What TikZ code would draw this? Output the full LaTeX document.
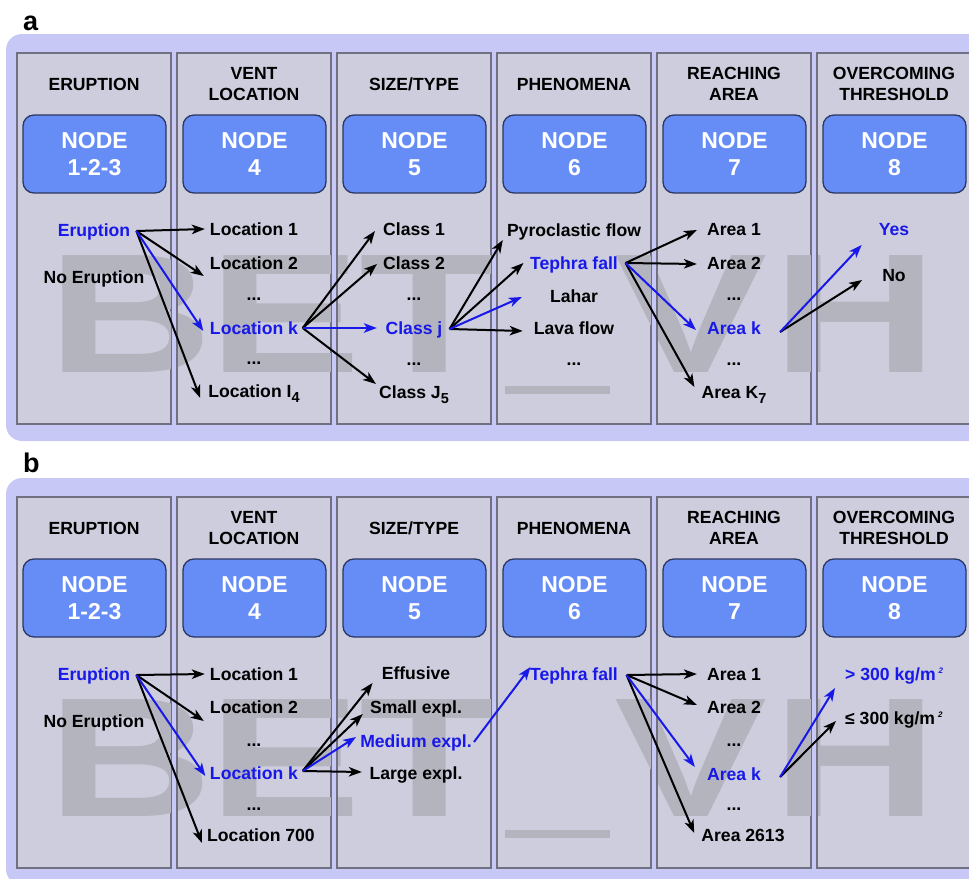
\documentclass[tikz,border=0pt]{standalone}
\usepackage{fontspec}
\setmainfont{Liberation Sans}
\usetikzlibrary{arrows.meta,calc}
\definecolor{lav}{RGB}{200,200,246}
\definecolor{colbg}{RGB}{205,205,222}
\definecolor{colbd}{RGB}{112,112,130}
\definecolor{nodebl}{RGB}{102,140,246}
\definecolor{nodebd}{RGB}{45,55,95}
\definecolor{bluetx}{RGB}{24,24,232}
\definecolor{wmark}{RGB}{180,180,191}
\newcommand\subsc[1]{\raisebox{-5pt}{\fontsize{14.5}{14.5}\selectfont #1}}
\newcommand\supsc[1]{\,\raisebox{7pt}{\fontsize{8}{8}\selectfont\itshape #1}}
\newcommand\drawpanel[2]{%
\begin{scope}[shift={(0,#2)}]
  \fill[outer] (6,34) rectangle (1010,441);
  \foreach \i in {0,...,5}{\draw[colbox] ({17+160*\i},53) rectangle ({171+160*\i},424);}
  \begin{scope}
    \clip (18,54) rectangle (170,423) (178,54) rectangle (330,423)
          (338,54) rectangle (490,423) (498,54) rectangle (650,423)
          (658,54) rectangle (810,423) (818,54) rectangle (970,423);
    \node[wm] at (130,372) {B};
    \node[wm] at (285,372) {E};
    \node[wm] at (430,372) {T};
    \fill[wmark] (505,386) rectangle (610,394);
    \node[wm] at (691,372) {V};
    \node[wm] at (855,372) {H};
  \end{scope}
  \node[hdr] (#1-h1) at (94,84) {ERUPTION};
  \node[hdr] (#1-h2) at (254,84) {VENT\\LOCATION};
  \node[hdr] (#1-h3) at (414,84) {SIZE/TYPE};
  \node[hdr] (#1-h4) at (574,84) {PHENOMENA};
  \node[hdr] (#1-h5) at (734,84) {REACHING\\AREA};
  \node[hdr] (#1-h6) at (894,84) {OVERCOMING\\THRESHOLD};
  \node[nodebox] (#1-n1) at (94.5,154) {NODE\\1-2-3};
  \node[nodebox] (#1-n2) at (254.5,154) {NODE\\4};
  \node[nodebox] (#1-n3) at (414.5,154) {NODE\\5};
  \node[nodebox] (#1-n4) at (574.5,154) {NODE\\6};
  \node[nodebox] (#1-n5) at (734.5,154) {NODE\\7};
  \node[nodebox] (#1-n6) at (894.5,154) {NODE\\8};
\end{scope}}
\begin{document}
\begin{tikzpicture}[x=1pt,y=-1pt,
  outer/.style={fill=lav, rounded corners=16pt},
  colbox/.style={fill=colbg, draw=colbd, line width=1.3pt},
  hdr/.style={font=\bfseries\fontsize{17.6}{21.5}\selectfont, align=center, inner sep=0pt},
  nodebox/.style={fill=nodebl, draw=nodebd, line width=1.3pt, rounded corners=11pt,
    minimum width=143pt, minimum height=78pt, text=white,
    font=\bfseries\fontsize{23}{27}\selectfont, align=center, inner sep=0pt},
  item/.style={font=\bfseries\fontsize{17.6}{20}\selectfont, inner sep=0pt, text height=12.4pt, text depth=0pt},
  bitem/.style={item, text=bluetx},
  dots/.style={font=\bfseries\fontsize{17.6}{20}\selectfont, inner sep=0pt, anchor=base},
  wm/.style={font=\bfseries\fontsize{170}{170}\selectfont, text=wmark, xscale=1.35, anchor=base, inner sep=0pt},
  arr/.style={-{Stealth[length=13pt,width=9.5pt,inset=3.5pt]}, line width=2pt, black},
  barr/.style={arr, draw=bluetx, fill=bluetx},
  lbl/.style={font=\bfseries\fontsize{27}{27}\selectfont, anchor=base west, inner sep=0pt}
]
\useasboundingbox (0,0) rectangle (969,878);
\clip (0,0) rectangle (969,878);

\node[lbl] (lbla) at (23,30) {a};
\node[lbl] (lblb) at (23,472) {b};

\drawpanel{a}{0}
\drawpanel{b}{444}

% ---------------- panel a items
\node[bitem] (a-eru) at (94,230) {Eruption};
\node[item]  (a-noe) at (94,277) {No Eruption};
\node[item]  (a-l1) at (254,229) {Location 1};
\node[item]  (a-l2) at (254,263) {Location 2};
\node[dots]  (a-ld1) at (254,300) {...};
\node[bitem] (a-lk) at (254,328) {Location k};
\node[dots]  (a-ld2) at (254,364) {...};
\node[item]  (a-li) at (254,391) {Location I\subsc{4}};

\node[item]  (a-c1) at (414,229) {Class 1};
\node[item]  (a-c2) at (414,263) {Class 2};
\node[dots]  (a-cd1) at (414,300) {...};
\node[bitem] (a-cj) at (414,328) {Class j};
\node[dots]  (a-cd2) at (414,365) {...};
\node[item]  (a-cJ) at (414,392) {Class J\subsc{5}};

\node[item]  (a-pf) at (574,230) {Pyroclastic flow};
\node[bitem] (a-tf) at (574,263) {Tephra fall};
\node[item]  (a-la) at (574,296) {Lahar};
\node[item]  (a-lf) at (574,328) {Lava flow};
\node[dots]  (a-pd) at (574,365) {...};

\node[item]  (a-a1) at (734,229) {Area 1};
\node[item]  (a-a2) at (734,263) {Area 2};
\node[dots]  (a-ad1) at (734,300) {...};
\node[bitem] (a-ak) at (734,328) {Area k};
\node[dots]  (a-ad2) at (734,365) {...};
\node[item]  (a-aK) at (734,392) {Area K\subsc{7}};

\node[bitem] (a-yes) at (894,229) {Yes};
\node[item]  (a-no) at (894,275) {No};

\coordinate (a-eru-o) at ($(a-eru.east)+(6,1)$);
\draw[arr]  (a-eru-o) -- ($(a-l1.west)+(-5,0)$);
\draw[arr]  (a-eru-o) -- ($(a-l2.west)+(-6,13)$);
\draw[arr]  (a-eru-o) -- ($(a-li.west)+(-8,7)$);
\draw[barr] (a-eru-o) -- ($(a-lk.west)+(-6.5,3)$);

\coordinate (a-lk-o) at ($(a-lk.east)+(4.5,0)$);
\draw[arr]  (a-lk-o) -- ($(a-c1.west)+(-8,2)$);
\draw[arr]  (a-lk-o) -- ($(a-c2.west)+(-6,1)$);
\draw[arr]  (a-lk-o) -- ($(a-cJ.west)+(-3,-8)$);
\draw[barr] (a-lk-o) -- ($(a-cj.west)+(-8.6,0)$);

\coordinate (a-cj-o) at ($(a-cj.east)+(7,1)$);
\draw[arr]  (a-cj-o) -- ($(a-pf.west)+(-4,10)$);
\draw[arr]  (a-cj-o) -- ($(a-tf.west)+(-6.5,0)$);
\draw[arr]  (a-cj-o) -- ($(a-lf.west)+(-11,3)$);
\draw[barr] (a-cj-o) -- ($(a-la.west)+(-28,1)$);

\coordinate (a-tf-o) at ($(a-tf.east)+(7.5,0)$);
\draw[arr]  (a-tf-o) -- ($(a-a1.west)+(-10,1)$);
\draw[arr]  (a-tf-o) -- ($(a-a2.west)+(-10,1)$);
\draw[arr]  (a-tf-o) -- ($(a-aK.west)+(-7,-5)$);
\draw[barr] (a-tf-o) -- ($(a-ak.west)+(-11,2)$);

\coordinate (a-ak-o) at ($(a-ak.east)+(19,4)$);
\draw[arr]  (a-ak-o) -- ($(a-no.west)+(-20,5)$);
\draw[barr] (a-ak-o) -- ($(a-yes.west)+(-17,16)$);

% ---------------- panel b items
\node[bitem] (b-eru) at (94,674) {Eruption};
\node[item]  (b-noe) at (94,721) {No Eruption};
\node[item]  (b-l1) at (254,674) {Location 1};
\node[item]  (b-l2) at (254,707) {Location 2};
\node[dots]  (b-ld1) at (254,746) {...};
\node[bitem] (b-lk) at (254,773) {Location k};
\node[dots]  (b-ld2) at (254,810) {...};
\node[item]  (b-l7) at (261,835) {Location 700};

\node[item]  (b-ef) at (416,673) {Effusive};
\node[item]  (b-se) at (416,707) {Small expl.};
\node[bitem] (b-me) at (416,741) {Medium expl.};
\node[item]  (b-le) at (416,773) {Large expl.};

\node[bitem] (b-tf) at (574,674) {Tephra fall};

\node[item]  (b-a1) at (734,674) {Area 1};
\node[item]  (b-a2) at (734,707) {Area 2};
\node[dots]  (b-ad1) at (734,746) {...};
\node[bitem] (b-ak) at (734,774) {Area k};
\node[dots]  (b-ad2) at (734,810) {...};
\node[item]  (b-a26) at (743,835) {Area 2613};

\node[bitem, anchor=west] (b-gt) at (845,674) {> 300 kg/m\supsc{2}};
\node[item, anchor=west]  (b-le3) at (845,718) {≤ 300 kg/m\supsc{2}};

\coordinate (b-eru-o) at ($(b-eru.east)+(6,1)$);
\draw[arr]  (b-eru-o) -- ($(b-l1.west)+(-5,0)$);
\draw[arr]  (b-eru-o) -- ($(b-l2.west)+(-6,14)$);
\draw[arr]  (b-eru-o) -- ($(b-l7.west)+(-5,8)$);
\draw[barr] (b-eru-o) -- ($(b-lk.west)+(-4.5,3)$);

\coordinate (b-lk-o) at ($(b-lk.east)+(4.5,-2)$);
\draw[arr]  (b-lk-o) -- ($(b-ef.west)+(-9,10)$);
\draw[arr]  (b-lk-o) -- ($(b-se.west)+(-7,7)$);
\draw[arr]  (b-lk-o) -- ($(b-le.west)+(-7.5,-1)$);
\draw[barr] (b-lk-o) -- ($(b-me.west)+(-4,-4)$);

\draw[barr] ($(b-me.east)+(2,1)$) -- ($(b-tf.west)+(0.5,-7)$);

\coordinate (b-tf-o) at ($(b-tf.east)+(8.5,1)$);
\draw[arr]  (b-tf-o) -- ($(b-a1.west)+(-10,0)$);
\draw[arr]  (b-tf-o) -- ($(b-a2.west)+(-10,-2)$);
\draw[arr]  (b-tf-o) -- ($(b-a26.west)+(-7,-2)$);
\draw[barr] (b-tf-o) -- ($(b-ak.west)+(-12,-7)$);

\coordinate (b-ak-o) at ($(b-ak.east)+(19,3)$);
\draw[arr]  (b-ak-o) -- ($(b-le3.west)+(-9,3)$);
\draw[barr] (b-ak-o) -- ($(b-gt.west)+(-10,14)$);
\end{tikzpicture}
\end{document}
